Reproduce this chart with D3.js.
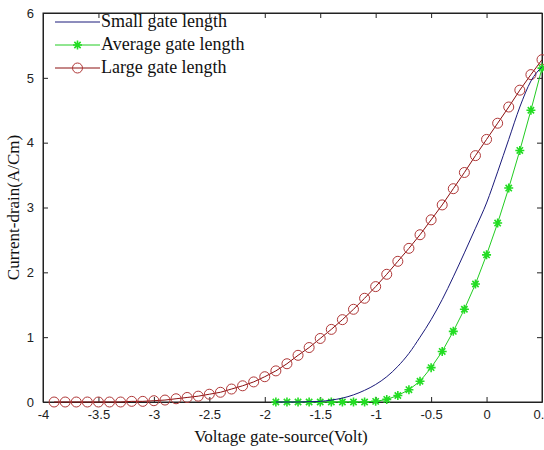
<!DOCTYPE html>
<html lang="en">
<head>
  <meta charset="UTF-8" />
  <title>Drain current vs gate-source voltage</title>
  <style>
    body { margin: 0; background: #fff; }
    .tick text { font-family: "Liberation Sans", Arial, sans-serif; font-size: 13px; fill: #222; }
    .lbl { font-family: "Liberation Serif", "Times New Roman", serif; font-size: 17px; fill: #111; }
    .leg { font-family: "Liberation Serif", "Times New Roman", serif; font-size: 18px; fill: #111; }
  </style>
</head>
<body>
  <svg id="chart"></svg>

  <script src="https://d3js.org/d3.v7.min.js"></script>
  <script>
    // x values (Volt)
    const xLarge = [-3.9,-3.8,-3.7,-3.6,-3.5,-3.4,-3.3,-3.2,-3.1,-3.0,-2.9,-2.8,-2.7,-2.6,-2.5,-2.4,-2.3,-2.2,-2.1,-2.0,
                    -1.9,-1.8,-1.7,-1.6,-1.5,-1.4,-1.3,-1.2,-1.1,-1.0,-0.9,-0.8,-0.7,-0.6,-0.5,-0.4,-0.3,-0.2,-0.1,0.0,
                    0.1,0.2,0.3,0.4,0.5];
    const large = [0,0,0,0,0,0,0,0.01,0.01,0.02,0.03,0.05,0.07,0.09,0.12,0.15,0.2,0.25,0.31,0.39,
                   0.48,0.59,0.72,0.84,0.98,1.12,1.27,1.43,1.6,1.78,1.97,2.17,2.37,2.58,2.81,3.04,3.29,3.54,3.8,4.05,
                   4.3,4.55,4.81,5.05,5.28];

    const xSmall = [-1.9,-1.8,-1.7,-1.6,-1.5,-1.4,-1.3,-1.2,-1.1,-1.0,-0.9,-0.8,-0.7,-0.6,-0.5,-0.4,-0.3,-0.2,-0.1,0.0,
                    0.1,0.2,0.3,0.4,0.5];
    const small = [0,0,0,0.005,0.01,0.03,0.06,0.11,0.18,0.27,0.39,0.55,0.75,1.0,1.27,1.58,1.93,2.3,2.68,3.07,
                   3.55,4.05,4.55,4.95,5.17];
    const average = [0,0,0,0,0,0,0,0,0,0.01,0.04,0.1,0.19,0.32,0.53,0.78,1.09,1.43,1.82,2.27,
                     2.76,3.3,3.88,4.5,5.15];

    const xTicks = [-4,-3.5,-3,-2.5,-2,-1.5,-1,-0.5,0,0.5];
    const yTicks = [0,1,2,3,4,5,6];
    const seriesNames = ["Small gate length", "Average gate length", "Large gate length"];

    const W = 544, H = 450;
    const margin = { top: 13, right: 2, bottom: 48, left: 43 };
    const width = W - margin.left - margin.right;
    const height = H - margin.top - margin.bottom;

    const svg = d3.select("#chart").attr("width", W).attr("height", H);
    const g = svg.append("g").attr("transform", `translate(${margin.left},${margin.top})`);

    const x = d3.scaleLinear().domain([-4, 0.5]).range([0, width]);
    const y = d3.scaleLinear().domain([0, 6]).range([height, 0]);

    // axes with inward ticks, box on all sides
    g.append("g").attr("transform", `translate(0,${height})`)
      .call(d3.axisBottom(x).tickValues(xTicks).tickSizeInner(-5).tickSizeOuter(0).tickPadding(8).tickFormat(d => String(d)));
    g.append("g")
      .call(d3.axisLeft(y).tickValues(yTicks).tickSizeInner(-5).tickSizeOuter(0).tickPadding(9).tickFormat(d3.format("d")));
    g.append("g")
      .call(d3.axisTop(x).tickValues(xTicks).tickSizeInner(-5).tickSizeOuter(0).tickFormat(""));
    g.append("g").attr("transform", `translate(${width},0)`)
      .call(d3.axisRight(y).tickValues(yTicks).tickSizeInner(-5).tickSizeOuter(0).tickFormat(""));
    g.selectAll(".domain").attr("stroke", "#222");
    g.selectAll(".tick line").attr("stroke", "#222");
    g.append("rect").attr("width", width).attr("height", height)
      .attr("fill", "none").attr("stroke", "#222");

    const line = d3.line().x(d => x(d[0])).y(d => y(d[1]));
    const smooth = d3.line().x(d => x(d[0])).y(d => y(d[1])).curve(d3.curveMonotoneX);

    const smallPts = xSmall.map((v, i) => [v, small[i]]);
    const avgPts = xSmall.map((v, i) => [v, average[i]]);
    const largePts = xLarge.map((v, i) => [v, large[i]]);

    // large gate length: dark red line, circles
    g.append("path").datum(largePts).attr("d", line)
      .attr("fill", "none").attr("stroke", "#8b1010").attr("stroke-width", 1);
    g.selectAll(".circ").data(largePts).join("circle")
      .attr("cx", d => x(d[0])).attr("cy", d => y(d[1])).attr("r", 5)
      .attr("fill", "none").attr("stroke", "#b03838").attr("stroke-width", 1);

    // average: green line with stars
    g.append("path").datum(avgPts).attr("d", line)
      .attr("fill", "none").attr("stroke", "#22cc22").attr("stroke-width", 1);
    function drawStar(sel, cx, cy) {
      const s = 4.5, k = s * 0.7;
      sel.append("path")
        .attr("d", `M${cx - s},${cy}H${cx + s}M${cx},${cy - s}V${cy + s}M${cx - k},${cy - k}L${cx + k},${cy + k}M${cx - k},${cy + k}L${cx + k},${cy - k}`)
        .attr("stroke", "#22dd22").attr("stroke-width", 1.6).attr("fill", "none");
    }
    const starG = g.append("g");
    avgPts.forEach(d => drawStar(starG, x(d[0]), y(d[1])));

    // small: navy line
    g.append("path").datum(smallPts).attr("d", smooth)
      .attr("fill", "none").attr("stroke", "#1a1a7a").attr("stroke-width", 1);

    // legend
    const lg = svg.append("g");
    const rows = [22, 45, 68];
    const colors = ["#1a1a7a", "#22cc22", "#8b1010"];
    seriesNames.forEach((name, i) => {
      lg.append("line").attr("x1", 55).attr("x2", 100).attr("y1", rows[i]).attr("y2", rows[i])
        .attr("stroke", colors[i]).attr("stroke-width", 1);
      if (i === 1) drawStar(lg, 77.5, rows[i]);
      if (i === 2) lg.append("circle").attr("cx", 77.5).attr("cy", rows[i]).attr("r", 5)
        .attr("fill", "none").attr("stroke", "#b03838");
      lg.append("text").attr("class", "leg").attr("x", 101).attr("y", rows[i] + 5).text(name);
    });

    // axis titles
    svg.append("text").attr("class", "lbl").attr("x", 281).attr("y", 442)
      .attr("text-anchor", "middle").text("Voltage gate-source(Volt)");
    svg.append("text").attr("class", "lbl")
      .attr("transform", `translate(19,${margin.top + height / 2}) rotate(-90)`)
      .attr("text-anchor", "middle").text("Current-drain(A/Cm)");
  </script>
</body>
</html>
